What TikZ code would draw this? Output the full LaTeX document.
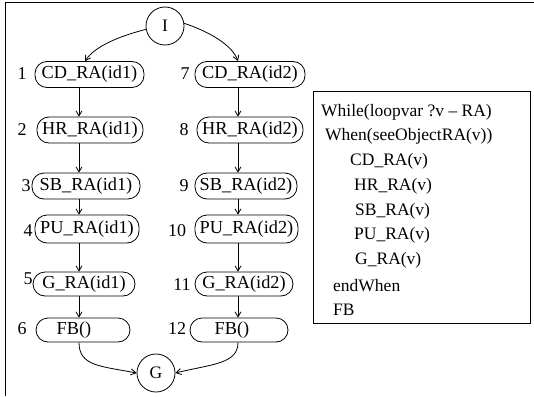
\documentclass[tikz,border=0pt]{standalone}
\usepackage{fontspec}
\setmainfont{Liberation Serif}
\usetikzlibrary{arrows.meta}
\begin{document}
\begin{tikzpicture}[x=1pt,y=-1pt,
  every node/.style={font=\fontsize{17.5}{20}\selectfont},
  stepbox/.style={draw,line width=0.8pt,rounded corners=12pt,inner sep=0pt,minimum height=26pt,font=\fontsize{18.3}{20}\selectfont},
  state/.style={draw,circle,line width=0.8pt,inner sep=0pt,minimum size=38pt},
  numlbl/.style={inner sep=0pt,font=\fontsize{18}{20}\selectfont},
  progline/.style={anchor=west,inner sep=0pt},
  arr/.style={line width=0.8pt,-{Straight Barb[length=5pt,width=6pt]}},
  frame/.style={line width=1.3pt}
]
\useasboundingbox (0,0) rectangle (534,396);
% outer frame (top and left edges only)
\coordinate (fTL) at (5.5,2.5);
\coordinate (fTR) at (534,2.5);
\coordinate (fBL) at (5.5,396);
\draw[frame] (fTR) -- (fTL) -- (fBL);

% spines
\coordinate (sL) at (79,0);
\coordinate (sR) at (238,0);

% start / goal
\node[state] (I) at (165,26) {I};
\node[state] (G) at (156,373) {G};

% left column
\node[stepbox,minimum width=109pt] (n1) at (89.5,74.5) {CD\_RA(id1)};
\node[stepbox,minimum width=106pt] (n2) at (90,130) {HR\_RA(id1)};
\node[stepbox,minimum width=108pt] (n3) at (86,186) {SB\_RA(id1)};
\node[stepbox,minimum width=104pt,minimum height=28pt] (n4) at (87,229) {PU\_RA(id1)};
\node[stepbox,minimum width=102pt,minimum height=24pt] (n5) at (84,284) {G\_RA(id1)};
\node[stepbox,minimum width=94pt,minimum height=24pt] (n6) at (83,330) {FB()\hspace*{18pt}};

% right column
\node[stepbox,minimum width=110pt] (n7) at (250,74.5) {CD\_RA(id2)};
\node[stepbox,minimum width=106pt] (n8) at (250,130) {HR\_RA(id2)};
\node[stepbox,minimum width=102pt] (n9) at (246,186) {SB\_RA(id2)};
\node[stepbox,minimum width=103pt,minimum height=28pt] (n10) at (246.5,229) {PU\_RA(id2)};
\node[stepbox,minimum width=98pt,minimum height=24pt] (n11) at (244,284) {G\_RA(id2)};
\node[stepbox,minimum width=98pt,minimum height=24pt] (n12) at (239,330) {FB()\hspace*{14pt}};

% number labels
\node[numlbl] (l1) at (22,74) {1};
\node[numlbl] (l2) at (22,130) {2};
\node[numlbl] (l3) at (26,186) {3};
\node[numlbl] (l4) at (28,231) {4};
\node[numlbl] (l5) at (28,279) {5};
\node[numlbl] (l6) at (22,329) {6};
\node[numlbl] (l7) at (185,74) {7};
\node[numlbl] (l8) at (184,130) {8};
\node[numlbl] (l9) at (184,186) {9};
\node[numlbl] (l10) at (177,231) {10};
\node[numlbl] (l11) at (182,285) {11};
\node[numlbl] (l12) at (177,329) {12};

% connectors
\draw[arr] (I.190) .. controls (120,36) and (95,46) .. (n1.north -| 85,0);
\draw[arr] (I.8) .. controls (210,32) and (232,45) .. (n7.north -| sR);
\foreach \a/\b in {n1/n2,n2/n3,n3/n4,n4/n5,n5/n6}{
  \draw[arr] (\a.south -| sL) -- (\b.north -| sL);
}
\foreach \a/\b in {n7/n8,n8/n9,n9/n10,n10/n11,n11/n12}{
  \draw[arr] (\a.south -| sR) -- (\b.north -| sR);
}
\draw[arr] (n6.south -| sL) .. controls (79,366) and (100,366) .. (G.west);
\draw[arr] (n12.south -| sR) .. controls (238,364) and (212,364) .. (G.east);

% program box
\node[draw,line width=1pt,anchor=north west,minimum width=217pt,minimum height=232pt,inner sep=0pt] (prog) at (313,91) {};
\node[progline] (t1) at (321,112) {While(loopvar ?v – RA)};
\node[progline] (t2) at (325,136.75) {When(seeObjectRA(v))};
\node[progline] (t3) at (350,161.5) {CD\_RA(v)};
\node[progline] (t4) at (354,186.25) {HR\_RA(v)};
\node[progline] (t5) at (355,211) {SB\_RA(v)};
\node[progline] (t6) at (354,235.75) {PU\_RA(v)};
\node[progline] (t7) at (355,260.5) {G\_RA(v)};
\node[progline] (t8) at (333,285.25) {endWhen};
\node[progline] (t9) at (333,310) {FB};
\end{tikzpicture}
\end{document}
